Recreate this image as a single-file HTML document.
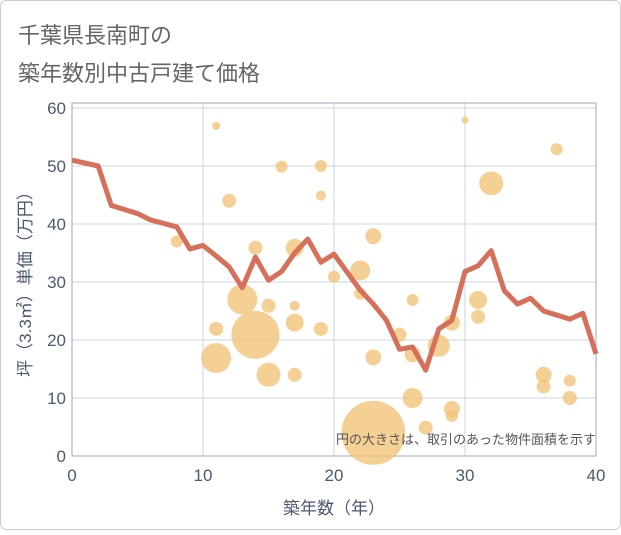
<!DOCTYPE html>
<html><head><meta charset="utf-8"><style>
body{margin:0;background:#fff}
svg text{font-family:"Liberation Sans","Noto Sans CJK JP",sans-serif}
</style></head><body>
<svg width="621" height="530" viewBox="0 0 621 530">
<rect x="0.5" y="0.5" width="620" height="529" rx="6" fill="#fff" stroke="#ccc"/>
<text x="18" y="43" font-size="22" fill="#666">千葉県長南町の</text>
<text x="18" y="81" font-size="22" fill="#666">築年数別中古戸建て価格</text>
<g id="grid"></g>
<rect x="72" y="103" width="524" height="353" fill="none" stroke="#a0a8b4"/>
<g id="bubbles"></g>
<polyline id="line" fill="none" stroke="#d6705a" stroke-width="5" stroke-linejoin="round"/>
<g id="ticks"></g>
<text x="596" y="444" font-size="13" fill="#555" text-anchor="end">円の大きさは、取引のあった物件面積を示す</text>
<text x="334" y="514" font-size="17" fill="#4a5a70" text-anchor="middle">築年数（年）</text>
<text transform="translate(31,280) rotate(-90)" font-size="17" fill="#4a5a70" text-anchor="middle">坪（3.3㎡）単価（万円）</text>
</svg>
<script>
const xTicks=[0,10,20,30,40];
const yTicks=[0,10,20,30,40,50,60];
const lineX=[0,2,3,5,6,8,9,10,11,12,13,14,15,16,17,18,19,20,21,22,23,24,25,26,27,28,29,30,31,32,33,34,35,36,37,38,39,40];
const lineY=[51,50,43.2,41.8,40.7,39.5,35.7,36.3,34.5,32.6,29,34.3,30.3,31.8,35,37.4,33.4,34.8,31.7,28.6,26.2,23.4,18.4,18.8,14.8,21.9,23.4,31.8,32.8,35.4,28.5,26.2,27.2,25,24.3,23.6,24.6,17.6];
const bubX=[11,16,19,12,19,8,14,17,20,13,15,17,11,14,17,19,11,15,17,30,37,32,23,22,22,26,25,29,31,31,28,26,23,26,27,29,29,23,36,36,38,38];
const bubY=[56.9,49.9,50,44,44.9,37,35.9,35.9,30.9,27,25.9,25.9,21.9,20.9,23,21.9,16.9,14,14,57.9,52.9,47,37.9,32,28,26.9,20.9,23,26.9,24,19,17.5,17,10,4.9,8.1,6.9,4,14,12,13,10];
const bubR=[4,6,6,7,5,6,7,9,6,15,7,5,7,24,9,7,15,12,7,3.5,6,12,8,10,6,6,7,8,9,7,11,8,8,10,7,8,6,32,8,7,6,7];
const X=v=>72+v*13.1, Y=v=>456-v*5.8;
const NS='http://www.w3.org/2000/svg';
const grid=document.getElementById('grid'),ticks=document.getElementById('ticks');
yTicks.forEach(t=>{
 const l=document.createElementNS(NS,'line');
 l.setAttribute('x1',72);l.setAttribute('x2',596);l.setAttribute('y1',Y(t));l.setAttribute('y2',Y(t));
 l.setAttribute('stroke','#c8d4e6');
 
 
 grid.appendChild(l);
 const s=document.createElementNS(NS,'text');
 s.setAttribute('x',66);s.setAttribute('y',Y(t)+6);s.setAttribute('text-anchor','end');
 s.setAttribute('font-size','17');s.setAttribute('fill','#4a5a70');s.textContent=t;
 
 
 ticks.appendChild(s);
});
xTicks.forEach(t=>{
 const l=document.createElementNS(NS,'line');
 l.setAttribute('y1',103);l.setAttribute('y2',456);l.setAttribute('x1',X(t));l.setAttribute('x2',X(t));
 l.setAttribute('stroke','#c8d4e6');
 
 
 grid.appendChild(l);
 const s=document.createElementNS(NS,'text');
 s.setAttribute('x',X(t));s.setAttribute('y',481);s.setAttribute('text-anchor','middle');
 s.setAttribute('font-size','17');s.setAttribute('fill','#4a5a70');s.textContent=t;
 
 
 ticks.appendChild(s);
});
const bg=document.getElementById('bubbles');
bubX.forEach((b,i)=>{
 const c=document.createElementNS(NS,'circle');
 c.setAttribute('cx',X(b));c.setAttribute('cy',Y(bubY[i]));c.setAttribute('r',bubR[i]);
 c.setAttribute('fill','#f3c47a');c.setAttribute('fill-opacity','0.8');
 
 
 bg.appendChild(c);
});
document.getElementById('line').setAttribute('points',lineX.map((x,i)=>X(x)+','+Y(lineY[i])).join(' '));
</script>
</body></html>
